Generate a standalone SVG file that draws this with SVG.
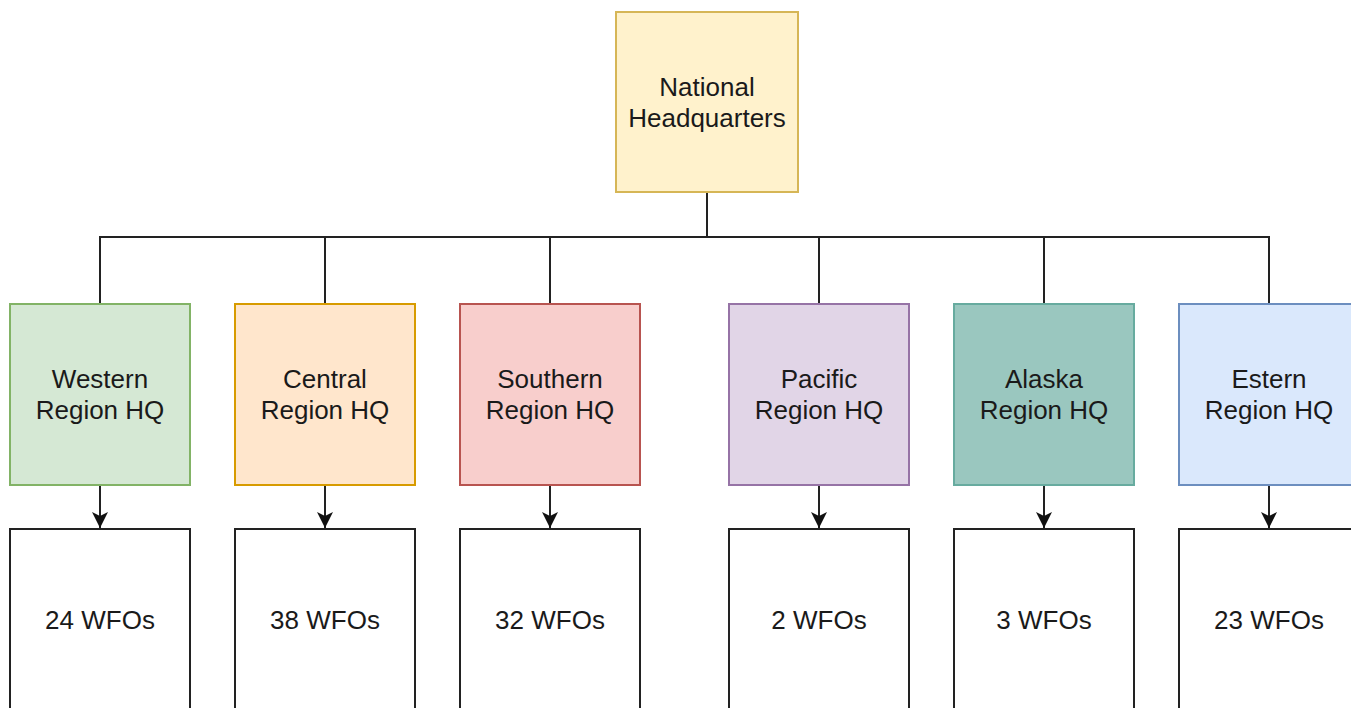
<svg xmlns="http://www.w3.org/2000/svg" width="1351" height="708" viewBox="0 0 1351 708">
  <style>
    .box { stroke-width: 2; }
    .lbl { font-family: "Liberation Sans", Arial, sans-serif; font-size: 26px; fill: #1a1a1a; text-anchor: middle; }
    .wire { fill: none; stroke: #222; stroke-width: 2; }
    .hq { fill: #fff2cc; stroke: #d6b656; }
    .west { fill: #d5e8d4; stroke: #82b366; }
    .cent { fill: #ffe6cc; stroke: #d79b00; }
    .south { fill: #f8cecc; stroke: #b85450; }
    .pac { fill: #e1d5e7; stroke: #9673a6; }
    .ak { fill: #9ac7bf; stroke: #67ab9f; }
    .east { fill: #dae8fc; stroke: #6c8ebf; }
    .wfo { fill: #ffffff; stroke: #222; }
  </style>
  <defs>
    <marker id="arrow" markerUnits="userSpaceOnUse" markerWidth="18" markerHeight="18" refX="16" refY="9" orient="auto">
      <path d="M0,1 L16,9 L0,17 L4,9 Z" fill="#111"/>
    </marker>
  </defs>

  <rect width="1351" height="708" fill="#ffffff"/>

  <!-- connectors -->
  <g id="connectors">
    <path class="wire" d="M707,192 V237 M100,304 V237 H1269 V304 M325,237 V304 M550,237 V304 M819,237 V304 M1044,237 V304"/>
    <line class="wire" x1="100" y1="485" x2="100" y2="528" marker-end="url(#arrow)"/>
    <line class="wire" x1="325" y1="485" x2="325" y2="528" marker-end="url(#arrow)"/>
    <line class="wire" x1="550" y1="485" x2="550" y2="528" marker-end="url(#arrow)"/>
    <line class="wire" x1="819" y1="485" x2="819" y2="528" marker-end="url(#arrow)"/>
    <line class="wire" x1="1044" y1="485" x2="1044" y2="528" marker-end="url(#arrow)"/>
    <line class="wire" x1="1269" y1="485" x2="1269" y2="528" marker-end="url(#arrow)"/>
  </g>

  <!-- national level -->
  <g id="national-hq">
    <rect class="box hq" x="616" y="12" width="182" height="180"/>
    <text class="lbl" x="707" y="96">National</text>
    <text class="lbl" x="707" y="127">Headquarters</text>
  </g>

  <!-- regional headquarters -->
  <g id="western-hq">
    <rect class="box west" x="10" y="304" width="180" height="181"/>
    <text class="lbl" x="100" y="388">Western</text>
    <text class="lbl" x="100" y="419">Region HQ</text>
  </g>
  <g id="central-hq">
    <rect class="box cent" x="235" y="304" width="180" height="181"/>
    <text class="lbl" x="325" y="388">Central</text>
    <text class="lbl" x="325" y="419">Region HQ</text>
  </g>
  <g id="southern-hq">
    <rect class="box south" x="460" y="304" width="180" height="181"/>
    <text class="lbl" x="550" y="388">Southern</text>
    <text class="lbl" x="550" y="419">Region HQ</text>
  </g>
  <g id="pacific-hq">
    <rect class="box pac" x="729" y="304" width="180" height="181"/>
    <text class="lbl" x="819" y="388">Pacific</text>
    <text class="lbl" x="819" y="419">Region HQ</text>
  </g>
  <g id="alaska-hq">
    <rect class="box ak" x="954" y="304" width="180" height="181"/>
    <text class="lbl" x="1044" y="388">Alaska</text>
    <text class="lbl" x="1044" y="419">Region HQ</text>
  </g>
  <g id="eastern-hq">
    <rect class="box east" x="1179" y="304" width="180" height="181"/>
    <text class="lbl" x="1269" y="388">Estern</text>
    <text class="lbl" x="1269" y="419">Region HQ</text>
  </g>

  <!-- forecast offices -->
  <g id="western-wfo">
    <rect class="box wfo" x="10" y="529" width="180" height="200"/>
    <text class="lbl" x="100" y="629">24 WFOs</text>
  </g>
  <g id="central-wfo">
    <rect class="box wfo" x="235" y="529" width="180" height="200"/>
    <text class="lbl" x="325" y="629">38 WFOs</text>
  </g>
  <g id="southern-wfo">
    <rect class="box wfo" x="460" y="529" width="180" height="200"/>
    <text class="lbl" x="550" y="629">32 WFOs</text>
  </g>
  <g id="pacific-wfo">
    <rect class="box wfo" x="729" y="529" width="180" height="200"/>
    <text class="lbl" x="819" y="629">2 WFOs</text>
  </g>
  <g id="alaska-wfo">
    <rect class="box wfo" x="954" y="529" width="180" height="200"/>
    <text class="lbl" x="1044" y="629">3 WFOs</text>
  </g>
  <g id="eastern-wfo">
    <rect class="box wfo" x="1179" y="529" width="180" height="200"/>
    <text class="lbl" x="1269" y="629">23 WFOs</text>
  </g>
</svg>
